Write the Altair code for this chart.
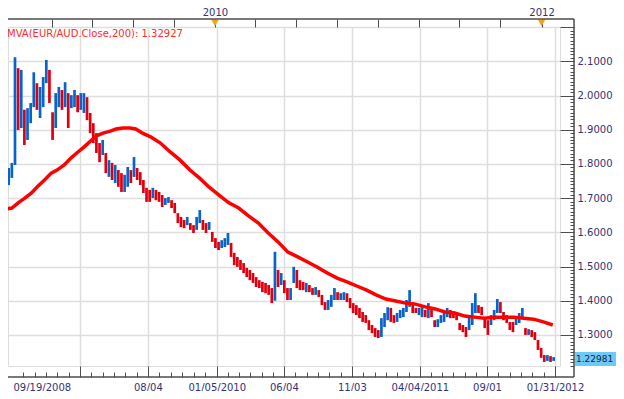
import altair as alt
import pandas as pd
import numpy as np

FONT = "DejaVu Sans"
BLUE = "#0a64c8"
RED = "#dd0010"
MA_RED = "#ff0000"
LABEL_COLOR = "#333377"
AXIS_COLOR = "#4d4d4d"

# ---- weekly EUR/AUD bars (first bar 2008-09-20, every 7 days)
BAR_START = "2008-09-20"
highs = [
    1.782, 1.788, 1.803, 2.112, 2.080, 2.075, 1.958, 1.963, 1.978, 2.068,
    2.036, 2.025, 2.054, 2.104, 2.075, 1.951, 2.007, 2.025, 2.016, 2.039,
    2.007, 2.001, 2.016, 2.001, 2.007, 2.007, 1.995, 1.949, 1.919, 1.890,
    1.861, 1.870, 1.832, 1.811, 1.803, 1.797, 1.782, 1.773, 1.768, 1.791,
    1.782, 1.820, 1.788, 1.776, 1.753, 1.730, 1.724, 1.730, 1.724, 1.718,
    1.709, 1.700, 1.703, 1.694, 1.686, 1.656, 1.645, 1.636, 1.645, 1.627,
    1.621, 1.645, 1.665, 1.636, 1.627, 1.630, 1.601, 1.583, 1.572, 1.577,
    1.583, 1.598, 1.569, 1.540, 1.528, 1.519, 1.510, 1.496, 1.490, 1.481,
    1.469, 1.460, 1.455, 1.452, 1.446, 1.437, 1.543, 1.490, 1.481, 1.460,
    1.437, 1.437, 1.499, 1.490, 1.460, 1.455, 1.452, 1.446, 1.437, 1.440,
    1.431, 1.417, 1.396, 1.402, 1.417, 1.437, 1.425, 1.422, 1.425, 1.422,
    1.408, 1.393, 1.387, 1.379, 1.367, 1.358, 1.343, 1.329, 1.320, 1.314,
    1.349, 1.364, 1.381, 1.379, 1.358, 1.364, 1.373, 1.379, 1.402, 1.431,
    1.396, 1.379, 1.379, 1.387, 1.373, 1.393, 1.382, 1.343, 1.346, 1.358,
    1.364, 1.379, 1.373, 1.367, 1.364, 1.335, 1.329, 1.323, 1.352, 1.393,
    1.422, 1.387, 1.382, 1.352, 1.343, 1.358, 1.373, 1.405, 1.396, 1.367,
    1.358, 1.338, 1.338, 1.352, 1.364, 1.379, 1.320, 1.317, 1.314, 1.308,
    1.285, 1.262, 1.241, 1.241, 1.238, 1.235,
]
lows = [
    1.729, 1.738, 1.759, 1.797, 1.899, 1.905, 1.855, 1.870, 1.919, 1.966,
    1.958, 1.934, 1.966, 2.036, 1.978, 1.870, 1.905, 1.966, 1.958, 1.966,
    1.905, 1.963, 1.966, 1.951, 1.958, 1.949, 1.928, 1.890, 1.861, 1.832,
    1.805, 1.826, 1.773, 1.762, 1.753, 1.744, 1.733, 1.718, 1.718, 1.733,
    1.744, 1.762, 1.753, 1.738, 1.715, 1.689, 1.689, 1.700, 1.694, 1.689,
    1.674, 1.680, 1.686, 1.671, 1.656, 1.627, 1.615, 1.612, 1.621, 1.607,
    1.598, 1.607, 1.627, 1.607, 1.598, 1.607, 1.572, 1.554, 1.548, 1.554,
    1.557, 1.563, 1.528, 1.504, 1.499, 1.490, 1.481, 1.469, 1.460, 1.452,
    1.440, 1.437, 1.425, 1.422, 1.417, 1.393, 1.400, 1.440, 1.446, 1.422,
    1.402, 1.402, 1.452, 1.437, 1.431, 1.431, 1.425, 1.425, 1.417, 1.417,
    1.411, 1.387, 1.373, 1.373, 1.382, 1.402, 1.402, 1.402, 1.402, 1.396,
    1.378, 1.364, 1.358, 1.349, 1.338, 1.335, 1.314, 1.305, 1.294, 1.291,
    1.294, 1.323, 1.343, 1.338, 1.335, 1.338, 1.349, 1.352, 1.367, 1.382,
    1.364, 1.364, 1.358, 1.352, 1.352, 1.349, 1.352, 1.323, 1.323, 1.335,
    1.338, 1.352, 1.349, 1.349, 1.343, 1.314, 1.308, 1.294, 1.314, 1.329,
    1.364, 1.364, 1.358, 1.320, 1.300, 1.329, 1.343, 1.364, 1.364, 1.343,
    1.335, 1.314, 1.308, 1.329, 1.335, 1.349, 1.300, 1.300, 1.294, 1.285,
    1.256, 1.233, 1.221, 1.224, 1.221, 1.224,
]
closes = [
    1.760, 1.770, 1.790, 1.950, 1.930, 1.960, 1.880, 1.930, 1.960, 2.040,
    1.980, 1.990, 2.040, 2.070, 1.990, 1.890, 1.960, 2.000, 1.980, 2.010,
    1.940, 1.980, 1.990, 1.970, 1.980, 1.990, 1.950, 1.910, 1.880, 1.860,
    1.840, 1.850, 1.790, 1.790, 1.770, 1.770, 1.750, 1.730, 1.740, 1.770,
    1.760, 1.790, 1.760, 1.750, 1.730, 1.710, 1.700, 1.720, 1.710, 1.700,
    1.690, 1.690, 1.695, 1.680, 1.660, 1.640, 1.630, 1.620, 1.630, 1.615,
    1.605, 1.630, 1.640, 1.615, 1.610, 1.620, 1.580, 1.565, 1.555, 1.565,
    1.570, 1.580, 1.540, 1.515, 1.510, 1.500, 1.490, 1.480, 1.470, 1.460,
    1.450, 1.445, 1.435, 1.430, 1.420, 1.400, 1.500, 1.460, 1.470, 1.430,
    1.410, 1.420, 1.480, 1.450, 1.445, 1.440, 1.440, 1.435, 1.425, 1.430,
    1.420, 1.400, 1.380, 1.390, 1.400, 1.420, 1.410, 1.410, 1.415, 1.405,
    1.390, 1.375, 1.370, 1.360, 1.350, 1.345, 1.320, 1.315, 1.305, 1.300,
    1.330, 1.350, 1.370, 1.350, 1.345, 1.350, 1.360, 1.370, 1.390, 1.410,
    1.380, 1.370, 1.370, 1.370, 1.360, 1.360, 1.355, 1.330, 1.335, 1.345,
    1.350, 1.365, 1.360, 1.355, 1.350, 1.325, 1.320, 1.305, 1.330, 1.370,
    1.385, 1.375, 1.370, 1.330, 1.320, 1.345, 1.360, 1.390, 1.380, 1.355,
    1.345, 1.325, 1.320, 1.340, 1.350, 1.365, 1.310, 1.310, 1.305, 1.295,
    1.265, 1.240, 1.230, 1.235, 1.228, 1.22981,
]

# ---- 200-period moving average
ma_dates = [
    "2008-09-19", "2008-10-04", "2008-10-18", "2008-11-02", "2008-11-17", "2008-11-30",
    "2008-12-16", "2008-12-31", "2009-01-13", "2009-01-29", "2009-02-13", "2009-02-26",
    "2009-03-14", "2009-03-29", "2009-04-11", "2009-04-26", "2009-05-12", "2009-05-25",
    "2009-06-09", "2009-06-25", "2009-07-08", "2009-07-23", "2009-08-10", "2009-09-01",
    "2009-09-23", "2009-10-15", "2009-11-06", "2009-11-27", "2009-12-19", "2010-01-10",
    "2010-02-01", "2010-02-23", "2010-03-17", "2010-04-08", "2010-04-30", "2010-05-22",
    "2010-06-13", "2010-07-05", "2010-07-27", "2010-08-18", "2010-09-09", "2010-10-01",
    "2010-10-23", "2010-11-14", "2010-12-06", "2010-12-27", "2011-01-18", "2011-02-09",
    "2011-03-03", "2011-03-25", "2011-04-16", "2011-05-08", "2011-05-30", "2011-06-21",
    "2011-07-13", "2011-08-04", "2011-08-26", "2011-09-17", "2011-10-09", "2011-10-31",
    "2011-11-22", "2011-12-14", "2012-01-05", "2012-01-26",
]
ma_values = [
    1.668, 1.671, 1.686, 1.700, 1.715, 1.733, 1.753, 1.773, 1.782, 1.797,
    1.817, 1.832, 1.849, 1.867, 1.882, 1.890, 1.896, 1.902, 1.905, 1.905,
    1.902, 1.890, 1.879, 1.861, 1.835, 1.811, 1.782, 1.759, 1.732, 1.709,
    1.686, 1.671, 1.648, 1.627, 1.598, 1.572, 1.542, 1.528, 1.513, 1.498,
    1.481, 1.466, 1.455, 1.443, 1.431, 1.417, 1.405, 1.399, 1.393, 1.390,
    1.382, 1.376, 1.367, 1.364, 1.355, 1.352, 1.349, 1.352, 1.352, 1.352,
    1.349, 1.346, 1.338, 1.329,
]
MA_LAST = 1.32927
MA_LABEL = "MVA(EUR/AUD.Close,200)"

# ---- axis tick/label text
bottom_major = ["2009-03-05", "2009-08-04", "2010-01-05", "2010-06-04",
                "2010-11-03", "2011-04-04", "2011-09-01", "2012-01-31"]
bottom_label_text = {
    "2008-10-06": "09/19/2008", "2009-08-04": "08/04", "2010-01-05": "01/05/2010",
    "2010-06-04": "06/04", "2010-11-03": "11/03", "2011-04-04": "04/04/2011",
    "2011-09-01": "09/01", "2012-01-31": "01/31/2012",
}
top_years = [2010, 2012]
Y_LABEL_MAX = 2.1

# ---------------------------------------------------------------------------
dates = pd.date_range(BAR_START, periods=len(highs), freq="7D")
dirs = ["up"] + ["up" if closes[i] >= closes[i - 1] else "down" for i in range(1, len(closes))]
bars_df = pd.DataFrame({"date": dates, "high": highs, "low": lows, "close": closes, "dir": dirs})
ma_df = pd.DataFrame({"date": pd.to_datetime(ma_dates), "ma": ma_values})
markers_df = pd.DataFrame({"date": [pd.Timestamp(year=y, month=1, day=1) for y in top_years]})
price_df = pd.DataFrame({"value": [closes[-1]], "text": [f"{closes[-1]:.5f}"]})
title_df = pd.DataFrame({"label": [f"{MA_LABEL}: {MA_LAST:.5f}"]})
one_df = pd.DataFrame({"a": [0]})


def dt(ts):
    ts = pd.Timestamp(ts).round("min")
    return alt.DateTime(year=ts.year, month=ts.month, date=ts.day, hours=ts.hour, minutes=ts.minute)


x_start = pd.Timestamp("2008-10-06 13:00")
x_end = pd.Timestamp("2012-01-31")
xscale = alt.Scale(domain=[dt(x_start), dt(x_end)], nice=False)
yscale = alt.Scale(domain=[1.2091, 2.2003], nice=False, zero=False)

# bottom axis tick values
major_ts = [pd.Timestamp(s) for s in bottom_major]
minor_ts = []
step0 = (major_ts[1] - major_ts[0]) / 6
for k in range(1, 6):
    t = major_ts[0] - k * step0
    if t > x_start:
        minor_ts.append(t)
for a, b in zip(major_ts[:-1], major_ts[1:]):
    st = (b - a) / 6
    for k in range(1, 6):
        minor_ts.append(a + k * st)
bottom_values = [dt(x_start)] + [dt(t) for t in major_ts] + [dt(t) for t in minor_ts]

fmt = "timeFormat(datum.value, '%Y-%m-%d')"
major_test = "indexof([" + ",".join(f"'{s}'" for s in bottom_major) + f"], {fmt}) >= 0"
start_test = f"{fmt} == '{x_start.strftime('%Y-%m-%d')}'"
label_expr = "''"
for k, v in reversed(list(bottom_label_text.items())):
    label_expr = f"({fmt} == '{k}') ? '{v}' : ({label_expr})"

bottom_axis = alt.Axis(
    orient="bottom", values=bottom_values, labelExpr=label_expr, title=None,
    tickSize=11, tickColor=AXIS_COLOR, tickWidth=1,
    tickDash={"condition": {"test": f"!({major_test})", "value": [0, 6, 5, 10]}, "value": []},
    tickOpacity={"condition": {"test": start_test, "value": 0}, "value": 1},
    grid=True, gridColor="#dedede", gridWidth=1.5,
    gridOpacity={"condition": {"test": major_test, "value": 1}, "value": 0},
    domain=False, labelPadding=5, labelBaseline="top",
    labelAlign={"condition": {"test": start_test, "value": "left"}, "value": "center"},
    labelFont=FONT, labelFontSize=10, labelColor=LABEL_COLOR,
    labelOverlap=False, labelBound=False, labelFlush=False,
)

y_values = [round(v, 2) for v in np.arange(1.21, 2.2001, 0.01)]
ymajor = "abs(datum.value * 10 - round(datum.value * 10)) < 0.001"
y_axis = alt.Axis(
    orient="right", values=y_values, title=None,
    labelExpr=f"(({ymajor}) && datum.value < {Y_LABEL_MAX + 0.05}) ? format(datum.value, '.4f') : ''",
    tickSize=14, tickColor=AXIS_COLOR, tickWidth=1,
    tickDash={"condition": {"test": f"!({ymajor})", "value": [0, 10, 4, 10]}, "value": []},
    grid=True, gridColor="#dedede", gridWidth=1.5,
    gridOpacity={"condition": {"test": ymajor, "value": 1}, "value": 0},
    domain=False, labelPadding=3, labelBaseline="middle",
    labelFont=FONT, labelFontSize=10, labelColor=LABEL_COLOR,
    labelOverlap=False, labelBound=False, labelFlush=False,
)

quarters = pd.date_range("2009-01-01", "2012-01-01", freq="QS")
year_list = ",".join(str(y) for y in top_years)
top_axis = alt.Axis(
    orient="top", values=[dt(q) for q in quarters], title=None,
    labelExpr=f"(month(datum.value) == 0 && indexof([{year_list}], year(datum.value)) >= 0) ? timeFormat(datum.value, '%Y') : ''",
    tickSize=8, tickColor=AXIS_COLOR, tickWidth=1, domain=False, grid=False,
    labelPadding=2, labelFont=FONT, labelFontSize=10, labelColor=LABEL_COLOR,
    labelOverlap=False, labelBound=False, labelFlush=False,
)

bars = alt.Chart(bars_df).mark_bar(size=2.7, clip=True).encode(
    x=alt.X("date:T", scale=xscale, axis=bottom_axis),
    y=alt.Y("low:Q", scale=yscale, axis=y_axis),
    y2="high:Q",
    color=alt.Color("dir:N", scale=alt.Scale(domain=["up", "down"], range=[BLUE, RED]), legend=None),
)

ma = alt.Chart(ma_df).mark_line(color=MA_RED, strokeWidth=3.5, clip=True).encode(
    x=alt.X("date:T", scale=xscale, axis=None),
    y=alt.Y("ma:Q", scale=yscale, axis=None),
)

markers = alt.Chart(markers_df).mark_point(
    shape="triangle-down", filled=True, size=55, color="#f5a31e", opacity=1
).encode(
    x=alt.X("date:T", scale=xscale, axis=top_axis),
    y=alt.value(-4),
)

title_text = alt.Chart(title_df).mark_text(
    align="left", baseline="middle", font=FONT, fontSize=10, color="#ff2a2a"
).encode(x=alt.value(-1), y=alt.value(7), text="label:N")

price_box = alt.Chart(price_df).mark_tick(
    orient="horizontal", size=49, thickness=14, color="#6ccaf6", opacity=1
).encode(x=alt.value(591.5), y=alt.Y("value:Q", scale=yscale, axis=None))

price_text = alt.Chart(price_df).mark_text(
    align="left", baseline="middle", font=FONT, fontSize=9, color="#1a1a40"
).encode(x=alt.value(568), y=alt.Y("value:Q", scale=yscale, axis=None), text="text:N")

frame_top = alt.Chart(one_df).mark_rule(color=AXIS_COLOR, strokeWidth=1.5).encode(
    x=alt.value(-8), x2=alt.value(566), y=alt.value(-8))
frame_right = alt.Chart(one_df).mark_rule(color=AXIS_COLOR, strokeWidth=1.5).encode(
    x=alt.value(566), y=alt.value(-8), y2=alt.value(350))
frame_bottom = alt.Chart(one_df).mark_rule(color=AXIS_COLOR, strokeWidth=1.5).encode(
    x=alt.value(-8), x2=alt.value(566), y=alt.value(350))

chart = alt.layer(
    bars, ma, markers, title_text, price_box, price_text, frame_top, frame_right, frame_bottom
).resolve_axis(x="independent", y="independent").properties(
    width=552, height=339,
    autosize=alt.AutoSizeParams(type="none"),
    padding={"left": 0, "top": 19, "right": 56, "bottom": 25},
).configure_view(stroke="#cfd6dd", strokeWidth=1.5).configure(background="white")

chart.save("out.html", embed_options={"renderer": "svg", "actions": False})
